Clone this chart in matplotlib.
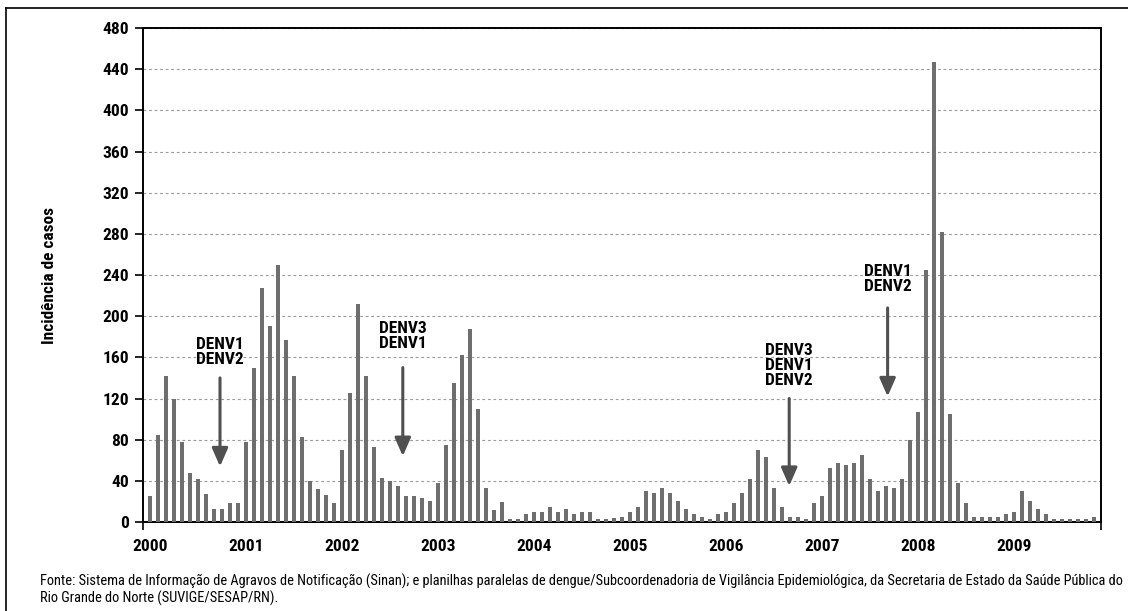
import numpy as np
import matplotlib
matplotlib.use("Agg")
import matplotlib.pyplot as plt
from matplotlib import font_manager
from matplotlib.lines import Line2D

# Monthly dengue incidence, Jan 2000 - Nov 2009
cases_2000 = [25, 85, 142, 120, 78, 48, 42, 27, 13, 13, 18, 18]
cases_2001 = [78, 150, 227, 190, 250, 177, 142, 83, 40, 32, 26, 18]
cases_2002 = [70, 125, 212, 142, 73, 43, 40, 35, 25, 25, 23, 20]
cases_2003 = [38, 75, 135, 162, 188, 110, 33, 12, 19, 3, 3, 8]
cases_2004 = [10, 10, 15, 10, 13, 8, 10, 10, 3, 3, 4, 5]
cases_2005 = [10, 15, 30, 28, 33, 28, 20, 13, 8, 5, 3, 8]
cases_2006 = [10, 18, 28, 42, 70, 63, 33, 15, 5, 5, 3, 18]
cases_2007 = [25, 52, 57, 55, 57, 65, 42, 30, 35, 33, 42, 80]
cases_2008 = [107, 245, 447, 282, 105, 38, 18, 5, 5, 5, 5, 8]
cases_2009 = [10, 30, 20, 13, 8, 3, 3, 3, 3, 3, 5]

years = ["2000", "2001", "2002", "2003", "2004", "2005", "2006", "2007", "2008", "2009"]
y_ticks = list(range(0, 481, 40))

# serotype introductions: (month index, label, text centre, arrow start, arrow tip)
serotypes = [
    (8.75, "DENV1\nDENV2", 165, 140, 54),
    (31.6, "DENV3\nDENV1", 181, 150, 64),
    (79.9, "DENV3\nDENV1\nDENV2", 152, 120, 35),
    (92.2, "DENV1\nDENV2", 236, 208, 122),
]

source = ("Fonte: Sistema de Informação de Agravos de Notificação (Sinan); e planilhas paralelas de "
          "dengue/Subcoordenadoria de Vigilância Epidemiológica, da Secretaria de Estado da Saúde Pública do\n"
          "Rio Grande do Norte (SUVIGE/SESAP/RN).")

cases = (cases_2000 + cases_2001 + cases_2002 + cases_2003 + cases_2004
         + cases_2005 + cases_2006 + cases_2007 + cases_2008 + cases_2009)
months = np.arange(len(cases))


def narrow_family():
    names = {f.name for f in font_manager.fontManager.ttflist}
    for name in ("Liberation Sans Narrow", "Roboto Condensed", "Open Sans Condensed"):
        if name in names:
            return [name, "DejaVu Sans"]
    return ["DejaVu Sans"]


plt.rcParams["font.family"] = narrow_family()
plt.rcParams["font.stretch"] = "condensed"

fig = plt.figure(figsize=(11.28, 6.11), dpi=100)
ax = fig.add_axes([143 / 1128, 1 - 522 / 611, (1101 - 143) / 1128, (522 - 28) / 611])

ax.bar(months, cases, width=0.5, color="#6e6e6e", zorder=3)

ax.set_ylim(0, 480)
ax.set_xlim(-0.875, len(cases) - 1 + 0.875)
ax.set_yticks(y_ticks)
ax.set_yticklabels([str(v) for v in y_ticks], fontsize=12.5, fontweight="bold")
ax.yaxis.grid(True, linestyle=(0, (2.5, 2.5)), color="#9a9a9a", linewidth=0.8, zorder=0)

ax.set_xticks(months[::12])
ax.set_xticklabels(years, fontsize=12.5, fontweight="bold")
ax.tick_params(axis="x", length=0, pad=12)
ax.set_xticks(ax.get_xlim(), minor=True)
ax.tick_params(axis="x", which="minor", length=6, width=1.2, color="black")
ax.tick_params(axis="y", length=6, width=1.2, pad=4)

for side in ("left", "bottom", "top", "right"):
    ax.spines[side].set_linewidth(1.4)
    ax.spines[side].set_color("black")

ax.set_ylabel("Incidência de casos", fontsize=12.5, fontweight="bold", labelpad=33)

for x, label, text_y, start, tip in serotypes:
    ax.text(x, text_y, label, ha="center", va="center", fontsize=12.5,
            fontweight="bold", linespacing=1.0, zorder=5)
    ax.annotate("", xy=(x, tip), xytext=(x, start),
                arrowprops=dict(arrowstyle="-|>,head_length=0.5,head_width=0.22",
                                color="#505050", lw=2.2, mutation_scale=22,
                                shrinkA=0, shrinkB=0), zorder=5)

fig.text(40 / 1128, 1 - 590 / 611, source, fontsize=10.4, ha="left", va="center", linespacing=1.1)

# outer frame of the figure
fig.add_artist(Line2D([6 / 1128, 6 / 1128], [0, 1 - 8 / 611], color="black", lw=1.2))
fig.add_artist(Line2D([6 / 1128, 1], [1 - 8 / 611, 1 - 8 / 611], color="black", lw=1.2))

fig.savefig("out.png", dpi=100)
